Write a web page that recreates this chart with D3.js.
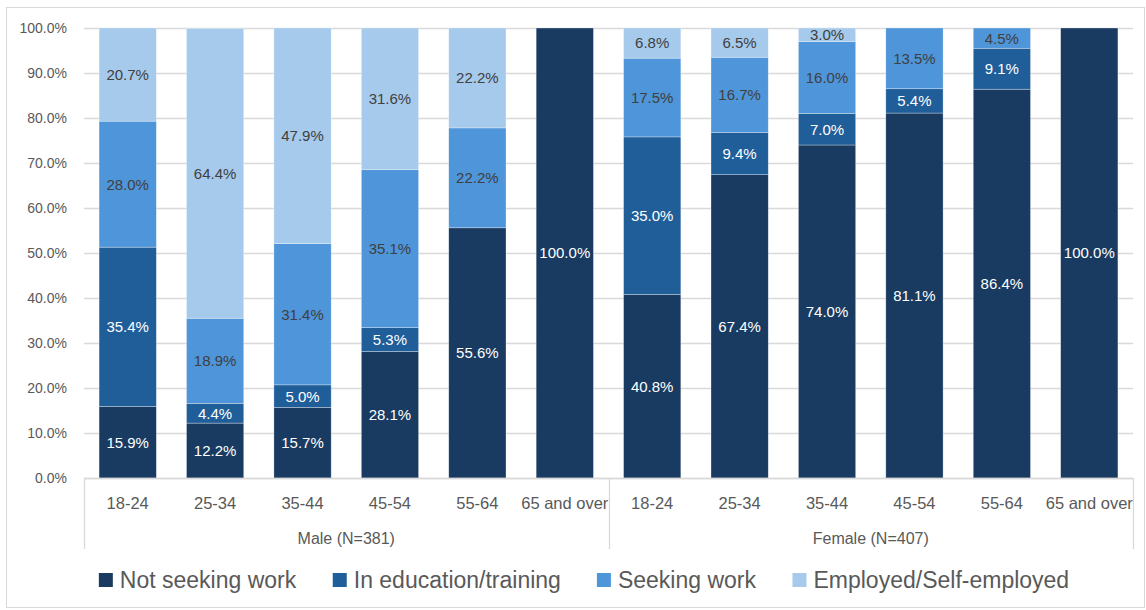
<!DOCTYPE html>
<html>
<head>
<meta charset="utf-8">
<script src="https://cdn.jsdelivr.net/npm/d3@7"></script>
<style>
  html, body { margin: 0; padding: 0; background: #fff; }
  svg { display: block; font-family: "Liberation Sans", Arial, sans-serif; }
</style>
</head>
<body>
<svg id="chart" width="1146" height="610"></svg>
<script>
// Employment status by age group, shown separately for men and women
const groups = ["Male (N=381)", "Female (N=407)"];
const ageBands = ["18-24", "25-34", "35-44", "45-54", "55-64", "65 and over"];
const seriesNames = ["Not seeking work", "In education/training", "Seeking work", "Employed/Self-employed"];

// Percentages per age band, in the order of ageBands
const maleNotSeeking   = [15.9, 12.2, 15.7, 28.1, 55.6, 100.0];
const maleEducation    = [35.4,  4.4,  5.0,  5.3,  0.0,   0.0];
const maleSeeking      = [28.0, 18.9, 31.4, 35.1, 22.2,   0.0];
const maleEmployed     = [20.7, 64.4, 47.9, 31.6, 22.2,   0.0];

const femaleNotSeeking = [40.8, 67.4, 74.0, 81.1, 86.4, 100.0];
const femaleEducation  = [35.0,  9.4,  7.0,  5.4,  9.1,   0.0];
const femaleSeeking    = [17.5, 16.7, 16.0, 13.5,  4.5,   0.0];
const femaleEmployed   = [ 6.8,  6.5,  3.0,  0.0,  0.0,   0.0];

const yTicks = [0, 10, 20, 30, 40, 50, 60, 70, 80, 90, 100];

const colors = ["#193b61", "#205e9a", "#4e95d9", "#a6caec"];
const labelColors = ["#ffffff", "#ffffff", "#404040", "#404040"];

// Build one row per bar
const maleSeries = [maleNotSeeking, maleEducation, maleSeeking, maleEmployed];
const femaleSeries = [femaleNotSeeking, femaleEducation, femaleSeeking, femaleEmployed];
const rows = [];
[maleSeries, femaleSeries].forEach((ser, gi) => {
  ageBands.forEach((a, i) => {
    const r = { key: gi + "|" + a, group: groups[gi], age: a };
    seriesNames.forEach((s, si) => { r[s] = ser[si][i]; });
    rows.push(r);
  });
});

const svg = d3.select("#chart");
const plotLeft = 84, plotRight = 1133, plotTop = 28, plotBottom = 478;

// outer frame
svg.append("rect").attr("x", 6.5).attr("y", 7.5).attr("width", 1138).attr("height", 600)
  .attr("fill", "none").attr("stroke", "#d9d9d9").attr("stroke-width", 1);

const x = d3.scaleBand().domain(rows.map(r => r.key)).range([plotLeft, plotRight])
  .paddingInner(0.345).paddingOuter(0.1725);
const y = d3.scaleLinear().domain([0, 100]).range([plotBottom, plotTop]);

// gridlines + y labels
const yAxis = d3.axisLeft(y).tickValues(yTicks).tickSize(-(plotRight - plotLeft)).tickPadding(17)
  .tickFormat(d => d.toFixed(1) + "%");
const gy = svg.append("g").attr("transform", `translate(${plotLeft},0)`).call(yAxis);
gy.select(".domain").remove();
gy.selectAll(".tick line").attr("stroke", "#d9d9d9").attr("stroke-width", 1.3);
gy.selectAll(".tick text").attr("fill", "#595959").attr("font-size", 14);

// stacked bars
const stack = d3.stack().keys(seriesNames);
const layers = stack(rows);

const layerG = svg.append("g").selectAll("g").data(layers).join("g")
  .attr("fill", (d, i) => colors[i]);
layerG.selectAll("rect").data(d => d.filter(p => p[1] - p[0] > 0)).join("rect")
  .attr("x", d => x(d.data.key))
  .attr("width", x.bandwidth())
  .attr("y", d => y(Math.min(d[1], 100)))
  .attr("height", d => y(d[0]) - y(Math.min(d[1], 100)))
  .attr("stroke", "#ffffff").attr("stroke-width", 0.6).attr("stroke-opacity", 0.5);

// value labels
layers.forEach((layer, li) => {
  svg.append("g").selectAll("text").data(layer.filter(p => p[1] - p[0] > 0)).join("text")
    .attr("x", d => x(d.data.key) + x.bandwidth() / 2)
    .attr("y", d => (y(d[0]) + y(Math.min(d[1], 100))) / 2)
    .attr("dy", "0.36em")
    .attr("text-anchor", "middle")
    .attr("font-size", 15)
    .attr("fill", labelColors[li])
    .text(d => d.data[seriesNames[li]].toFixed(1) + "%");
});

// x axis line and category labels
svg.append("line").attr("x1", plotLeft).attr("x2", plotRight).attr("y1", plotBottom + 0.5).attr("y2", plotBottom + 0.5)
  .attr("stroke", "#d9d9d9").attr("stroke-width", 1.3);
svg.append("g").selectAll("text").data(rows).join("text")
  .attr("x", d => x(d.key) + x.bandwidth() / 2)
  .attr("y", 503).attr("dy", "0.36em")
  .attr("text-anchor", "middle").attr("font-size", 16.5).attr("fill", "#595959")
  .text(d => d.age);

// group dividers and group labels
const groupEdges = [plotLeft, (plotLeft + plotRight) / 2, plotRight];
svg.append("g").selectAll("line").data(groupEdges).join("line")
  .attr("x1", d => Math.round(d) + 0.5).attr("x2", d => Math.round(d) + 0.5)
  .attr("y1", plotBottom).attr("y2", 549)
  .attr("stroke", "#d9d9d9").attr("stroke-width", 1.3);
svg.append("g").selectAll("text").data(groups).join("text")
  .attr("x", (d, i) => (groupEdges[i] + groupEdges[i + 1]) / 2)
  .attr("y", 538).attr("dy", "0.36em")
  .attr("text-anchor", "middle").attr("font-size", 16).attr("fill", "#595959")
  .text(d => d);

// legend
const legend = svg.append("g");
const legendFont = 23;
const items = legend.selectAll("g").data(seriesNames).join("g");
items.append("rect").attr("width", 14).attr("height", 14).attr("y", -7)
  .attr("fill", (d, i) => colors[i]);
items.append("text").attr("x", 21).attr("dy", "0.36em")
  .attr("font-size", legendFont).attr("fill", "#595959").text(d => d);
let cursor = 0;
const offsets = [];
items.each(function () {
  const w = this.getBBox().width;
  offsets.push(cursor);
  cursor += w + 36;
});
const total = cursor - 36;
const startX = 584 - total / 2;
items.attr("transform", (d, i) => `translate(${startX + offsets[i]},580)`);
</script>
</body>
</html>
